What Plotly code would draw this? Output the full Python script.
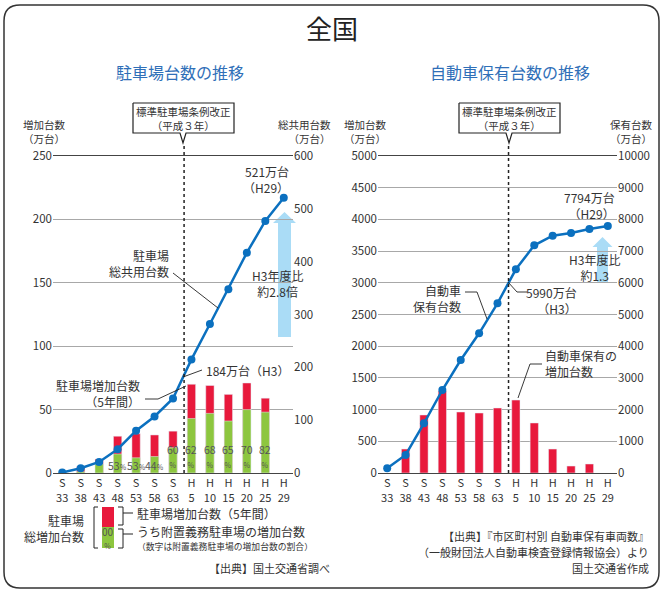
import plotly.graph_objects as go

# 年次（昭和S・平成H）
years = ['S33', 'S38', 'S43', 'S48', 'S53', 'S58', 'S63', 'H5', 'H10', 'H15', 'H20', 'H25', 'H29']
year_ticks = ['S<br>33', 'S<br>38', 'S<br>43', 'S<br>48', 'S<br>53', 'S<br>58', 'S<br>63',
              'H<br>5', 'H<br>10', 'H<br>15', 'H<br>20', 'H<br>25', 'H<br>29']

# 駐車場（万台）
parking_total = [1, 9, 21, 45, 80, 107, 141, 215, 282, 348, 417, 477, 521]
parking_increase = [None, 5, 11, 29, 31, 30, 33, 70, 69, 62, 71, 59, None]
parking_required = [None, 1, 7, 15, 12, 13, 20, 43, 47, 41, 50, 48, None]
required_share = [None, None, None, 53, 53, 44, 60, 62, 68, 65, 70, 82, None]

# 自動車保有台数（万台）
cars_total = [148, 568, 1567, 2618, 3565, 4407, 5353, 6426, 7183, 7486, 7571, 7697, 7794]
cars_increase = [None, 378, 915, 1293, 962, 946, 1025, 1151, 789, 378, 110, 142, None]

h3_pos = 6.6  # 平成3年 (S63とH5の間)

RED = '#e8193c'
GREEN = '#8dc63f'
BLUE = '#0b70bf'
LIGHTBLUE = '#aadcf6'
TXT = '#333333'
FONT = 'Noto Sans CJK JP'

W, H = 663, 592
def px(x): return x / W
def py(y): return 1 - y / H

fig = go.Figure()

# 左：駐車場
fig.add_trace(go.Bar(x=years, y=parking_increase, marker_color=RED, width=0.45,
                     xaxis='x', yaxis='y', hoverinfo='skip'))
fig.add_trace(go.Bar(x=years, y=parking_required, marker_color=GREEN, width=0.45,
                     xaxis='x', yaxis='y', hoverinfo='skip'))
fig.add_trace(go.Scatter(x=years, y=parking_total, mode='lines+markers',
                         line=dict(color=BLUE, width=2.5), marker=dict(size=8, color=BLUE),
                         xaxis='x', yaxis='y2'))

# 右：自動車
fig.add_trace(go.Bar(x=years, y=cars_increase, marker_color=RED, width=0.45,
                     xaxis='x2', yaxis='y3', hoverinfo='skip'))
fig.add_trace(go.Scatter(x=years, y=cars_total, mode='lines+markers',
                         line=dict(color=BLUE, width=2.5), marker=dict(size=8, color=BLUE),
                         xaxis='x2', yaxis='y4'))

tickfont = dict(family=FONT, size=11.5, color=TXT)
xcommon = dict(type='category', range=[-0.5, 12.5], tickmode='array', tickvals=years,
               ticktext=year_ticks, tickfont=dict(family=FONT, size=11, color=TXT),
               showgrid=False, showline=True, mirror=True, linecolor='#444', linewidth=1,
               ticks='', fixedrange=True, automargin=False)
ycommon = dict(domain=[py(473), py(156)], ticks='', tickfont=tickfont, zeroline=False,
               showline=False, fixedrange=True, tickformat='d', automargin=False)

fig.update_layout(
    width=W, height=H, margin=dict(l=0, r=0, t=0, b=0, autoexpand=False),
    paper_bgcolor='white', plot_bgcolor='white', showlegend=False, barmode='overlay',
    font=dict(family=FONT, color=TXT),
    xaxis=dict(domain=[px(53), px(293)], anchor='y', **xcommon),
    xaxis2=dict(domain=[px(378), px(617)], anchor='y3', **xcommon),
    yaxis=dict(range=[0, 250], dtick=50, showgrid=True, gridcolor='#a8a8a8', anchor='x', **ycommon),
    yaxis2=dict(range=[0, 600], dtick=100, showgrid=False, overlaying='y', side='right',
                anchor='x', **ycommon),
    yaxis3=dict(range=[0, 5000], dtick=500, showgrid=True, gridcolor='#a8a8a8', anchor='x2', **ycommon),
    yaxis4=dict(range=[0, 10000], dtick=1000, showgrid=False, overlaying='y3', side='right',
                anchor='x2', **ycommon),
)

def text(x, y, s, size=12, anchor='center', color=TXT, xref='paper', yref='paper'):
    fig.add_annotation(x=x if xref != 'paper' else px(x), y=y if yref != 'paper' else py(y),
                       xref=xref, yref=yref, text=s, showarrow=False, xanchor=anchor,
                       yanchor='middle', align=anchor if anchor != 'center' else 'center',
                       font=dict(family=FONT, size=size, color=color))

def line(points, width=0.9, color='#222', dash=None):
    path = 'M ' + ' L '.join(f'{px(a)},{py(b)}' for a, b in points)
    fig.add_shape(type='path', path=path, xref='paper', yref='paper',
                  line=dict(color=color, width=width, dash=dash))

# 枠（角丸）
x0, y0, x1, y1, r = 4, 5, 659, 588, 16
border = (f'M {px(x0 + r)},{py(y0)} L {px(x1 - r)},{py(y0)} Q {px(x1)},{py(y0)} {px(x1)},{py(y0 + r)} '
          f'L {px(x1)},{py(y1 - r)} Q {px(x1)},{py(y1)} {px(x1 - r)},{py(y1)} '
          f'L {px(x0 + r)},{py(y1)} Q {px(x0)},{py(y1)} {px(x0)},{py(y1 - r)} '
          f'L {px(x0)},{py(y0 + r)} Q {px(x0)},{py(y0)} {px(x0 + r)},{py(y0)} Z')
fig.add_shape(type='path', path=border, xref='paper', yref='paper', line=dict(color='#333', width=1.5))

# タイトル
text(332, 28, '全国', size=26, color='#222')
text(180, 72, '駐車場台数の推移', size=16, color='#2f6fb8')
text(510, 72, '自動車保有台数の推移', size=16, color='#2f6fb8')

# 平成3年 点線と吹き出し
for xa, ya, cx in [('x', 'y', 183), ('x2', 'y3', 509)]:
    fig.add_shape(type='line', xref=xa, yref='paper', x0=h3_pos, x1=h3_pos, y0=py(473), y1=py(143),
                  line=dict(color='#222', width=1.5, dash='dot'))
    bx0, bx1 = cx - 50, cx + 51
    line([(bx0, 103), (bx1, 103), (bx1, 133), (cx + 3, 133), (cx, 143), (cx - 3, 133), (bx0, 133), (bx0, 103)],
         width=1.2)
    text(cx, 118, '標準駐車場条例改正<br>（平成３年）', size=10.5)

# 軸見出し
text(21, 131, '増加台数<br>（万台）', size=10.5, anchor='left')
text(333, 131, '総共用台数<br>（万台）', size=10.5, anchor='right')
text(342, 131, '増加台数<br>（万台）', size=10.5, anchor='left')
text(655, 131, '保有台数<br>（万台）', size=10.5, anchor='right')

# 水色の矢印
def arrow(cx, tip, base, bottom, hw, sw):
    pts = [(cx, tip), (cx + hw, base), (cx + sw, base), (cx + sw, bottom), (cx - sw, bottom),
           (cx - sw, base), (cx - hw, base)]
    path = 'M ' + ' L '.join(f'{px(a)},{py(b)}' for a, b in pts) + ' Z'
    fig.add_shape(type='path', path=path, xref='paper', yref='paper', fillcolor=LIGHTBLUE,
                  line=dict(width=0), layer='between')

arrow(284.5, 212, 223, 337, 11.5, 6.5)
arrow(602.5, 237, 247, 283, 10, 5.5)
text(277, 283, 'H3年度比<br>約2.8倍', size=12)
text(594, 267, 'H3年度比<br>約1.3', size=12)

# 左グラフ注記
text(291, 179, '521万台<br>（H29）', size=12, anchor='right')
text(171, 263, '駐車場<br>総共用台数', size=12, anchor='right')
line([(173, 273), (218, 308)])
text(204, 370, '184万台（H3）', size=12, anchor='left')
line([(202, 370), (183, 377)])
text(142, 393, '駐車場増加台数<br>（5年間）', size=12, anchor='right')
line([(145, 399), (158, 399), (186, 386)])

# 附置義務の割合
for i, share in enumerate(required_share):
    if share is None:
        continue
    if i <= 5:
        text(years[i], 5.9, f"{share}<span style='font-size:7px'>%</span>", size=10.5, color='#555',
             xref='x', yref='y')
    else:
        text(years[i], 13.5, f"{share}<br><span style='font-size:7px'>%</span>", size=10.5,
             color='#555', xref='x', yref='y')

# 右グラフ注記
text(617, 205, '7794万台<br>（H29）', size=12, anchor='right')
text(463, 298, '自動車<br>保有台数', size=12, anchor='right')
line([(465, 292), (477, 292), (487, 319)])
text(579, 300, '5990万台<br>（H3）', size=12, anchor='right')
line([(508, 282), (517, 292), (527, 292)])
text(543, 363, '自動車保有の<br>増加台数', size=12, anchor='left')
line([(542, 364), (530, 364), (518, 398)])

# 凡例（左下）
text(86, 528, '駐車場<br>総増加台数', size=12, anchor='right')
fig.add_shape(type='rect', xref='paper', yref='paper', x0=px(102), x1=px(114), y0=py(527), y1=py(507),
              fillcolor=RED, line=dict(width=0))
fig.add_shape(type='rect', xref='paper', yref='paper', x0=px(102), x1=px(114), y0=py(548), y1=py(527),
              fillcolor=GREEN, line=dict(width=0))
text(108, 537, "00<br><span style='font-size:7px'>%</span>", size=10, color='#555')
line([(98, 507), (94, 507), (94, 548), (98, 548)], width=1)
line([(118, 507), (123, 507), (123, 525), (118, 525)], width=1)
line([(118, 529), (123, 529), (123, 548), (118, 548)], width=1)
line([(123, 513), (133, 513)], width=1)
line([(123, 534), (133, 534)], width=1)
text(135, 513, '駐車場増加台数（5年間）', size=12, anchor='left')
text(135, 531, 'うち附置義務駐車場の増加台数', size=12, anchor='left')
text(135, 546, '（数字は附置義務駐車場の増加台数の割合）', size=8.8, anchor='left')
text(332, 568, '【出典】国土交通省調べ', size=11, anchor='right')

# 出典（右下）
text(651, 536, '【出典】『市区町村別 自動車保有車両数』', size=11, anchor='right')
text(651, 552, '（一般財団法人自動車検査登録情報協会）より', size=11, anchor='right')
text(651, 568, '国土交通省作成', size=11, anchor='right')

fig.write_html('out.html', config={'displayModeBar': False},
               post_script="document.body.style.margin='0';")
